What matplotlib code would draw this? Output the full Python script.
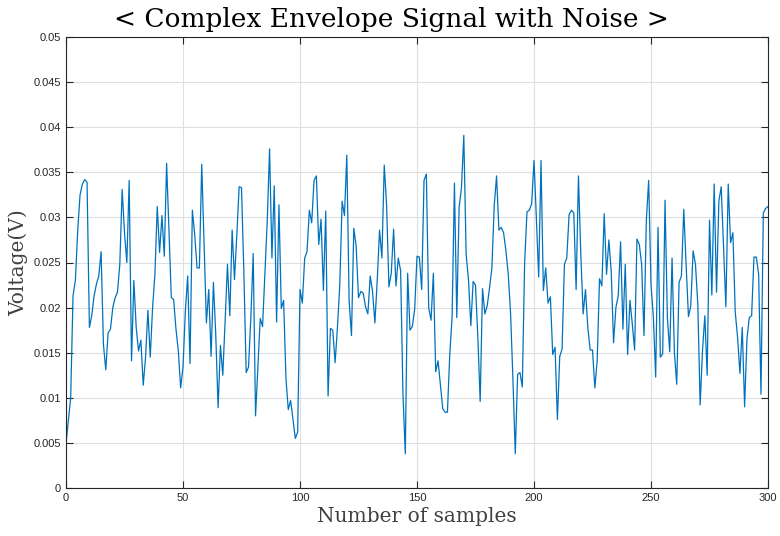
import matplotlib
matplotlib.use("Agg")
import matplotlib.pyplot as plt
import numpy as np

samples = list(range(301))
voltage = [
    0.0049, 0.0075, 0.0100, 0.0213, 0.0230, 0.0285, 0.0325, 0.0337, 0.0342, 0.0339,
    0.0178, 0.0191, 0.0213, 0.0226, 0.0235, 0.0262, 0.0159, 0.0131, 0.0172, 0.0176,
    0.0200, 0.0211, 0.0217, 0.0248, 0.0331, 0.0283, 0.0250, 0.0341, 0.0141, 0.0230,
    0.0178, 0.0152, 0.0164, 0.0114, 0.0145, 0.0197, 0.0145, 0.0200, 0.0237, 0.0312,
    0.0261, 0.0302, 0.0257, 0.0360, 0.0285, 0.0211, 0.0209, 0.0176, 0.0152, 0.0111,
    0.0134, 0.0196, 0.0235, 0.0138, 0.0308, 0.0281, 0.0244, 0.0244, 0.0359, 0.0270,
    0.0183, 0.0220, 0.0146, 0.0228, 0.0170, 0.0089, 0.0158, 0.0125, 0.0185, 0.0248,
    0.0191, 0.0286, 0.0231, 0.0281, 0.0334, 0.0333, 0.0240, 0.0128, 0.0134, 0.0189,
    0.0260, 0.0080, 0.0134, 0.0188, 0.0179, 0.0237, 0.0296, 0.0376, 0.0255, 0.0335,
    0.0184, 0.0314, 0.0199, 0.0208, 0.0121, 0.0087, 0.0097, 0.0076, 0.0055, 0.0062,
    0.0220, 0.0205, 0.0255, 0.0262, 0.0308, 0.0294, 0.0341, 0.0346, 0.0270, 0.0298,
    0.0219, 0.0307, 0.0102, 0.0177, 0.0175, 0.0139, 0.0178, 0.0225, 0.0318, 0.0302,
    0.0369, 0.0207, 0.0169, 0.0288, 0.0268, 0.0211, 0.0218, 0.0216, 0.0201, 0.0193,
    0.0235, 0.0218, 0.0183, 0.0230, 0.0286, 0.0255, 0.0358, 0.0314, 0.0223, 0.0238,
    0.0287, 0.0224, 0.0255, 0.0241, 0.0104, 0.0038, 0.0238, 0.0175, 0.0179, 0.0198,
    0.0257, 0.0256, 0.0220, 0.0341, 0.0348, 0.0200, 0.0186, 0.0238, 0.0129, 0.0141,
    0.0115, 0.0088, 0.0084, 0.0084, 0.0148, 0.0189, 0.0338, 0.0189, 0.0311, 0.0333,
    0.0391, 0.0259, 0.0231, 0.0180, 0.0229, 0.0225, 0.0167, 0.0096, 0.0221, 0.0193,
    0.0202, 0.0222, 0.0244, 0.0313, 0.0346, 0.0286, 0.0289, 0.0283, 0.0263, 0.0237,
    0.0193, 0.0120, 0.0038, 0.0126, 0.0128, 0.0112, 0.0250, 0.0306, 0.0308, 0.0315,
    0.0363, 0.0300, 0.0234, 0.0363, 0.0219, 0.0244, 0.0205, 0.0212, 0.0148, 0.0156,
    0.0076, 0.0146, 0.0154, 0.0248, 0.0255, 0.0303, 0.0308, 0.0305, 0.0220, 0.0346,
    0.0259, 0.0193, 0.0220, 0.0178, 0.0153, 0.0153, 0.0111, 0.0141, 0.0232, 0.0224,
    0.0304, 0.0237, 0.0275, 0.0240, 0.0161, 0.0200, 0.0213, 0.0273, 0.0176, 0.0248,
    0.0148, 0.0208, 0.0182, 0.0153, 0.0276, 0.0270, 0.0248, 0.0169, 0.0296, 0.0341,
    0.0225, 0.0190, 0.0123, 0.0289, 0.0145, 0.0149, 0.0319, 0.0189, 0.0151, 0.0255,
    0.0150, 0.0115, 0.0228, 0.0235, 0.0309, 0.0248, 0.0190, 0.0202, 0.0263, 0.0248,
    0.0204, 0.0092, 0.0152, 0.0191, 0.0125, 0.0297, 0.0214, 0.0337, 0.0217, 0.0318,
    0.0334, 0.0266, 0.0201, 0.0337, 0.0272, 0.0283, 0.0195, 0.0167, 0.0127, 0.0178,
    0.0090, 0.0165, 0.0189, 0.0191, 0.0256, 0.0256, 0.0237, 0.0104, 0.0305, 0.0310,
    0.0312,
]
xticks = [0, 50, 100, 150, 200, 250, 300]
yticks = [0, 0.005, 0.01, 0.015, 0.02, 0.025, 0.03, 0.035, 0.04, 0.045, 0.05]
ytick_labels = ["0", "0.005", "0.01", "0.015", "0.02", "0.025", "0.03", "0.035", "0.04", "0.045", "0.05"]

fig = plt.figure(figsize=(7.8, 5.36), dpi=100)
ax = fig.add_axes([66/780, 48/536, 702/780, 451/536])
ax.plot(samples, voltage, color="#0072BD", linewidth=0.9)
ax.set_xlim(0, 300)
ax.set_ylim(0, 0.05)
ax.set_xticks(xticks)
ax.set_yticks(yticks)
ax.set_yticklabels(ytick_labels)
ax.grid(True, color="#DFDFDF", linewidth=0.8)
ax.set_axisbelow(True)
ax.tick_params(direction="in", length=5, width=0.8, top=True, right=True,
               labelsize=8, labelcolor="#262626", colors="#262626")
for lbl in ax.get_xticklabels() + ax.get_yticklabels():
    lbl.set_fontfamily("Liberation Sans")
for s in ax.spines.values():
    s.set_color("#262626")
    s.set_linewidth(0.8)
ax.set_xlabel("Number of samples", fontfamily="DejaVu Serif", fontsize=14.5,
              color="#404040", labelpad=3)
ax.set_ylabel("Voltage(V)", fontfamily="DejaVu Serif", fontsize=14.5,
              color="#404040", labelpad=4)
fig.text(0.5 + (391 - 390) / 780, 1 - 20 / 536, "< Complex Envelope Signal with Noise >",
         ha="center", va="center", fontfamily="DejaVu Serif", fontsize=19, color="black")
fig.savefig("out.png", dpi=100)
